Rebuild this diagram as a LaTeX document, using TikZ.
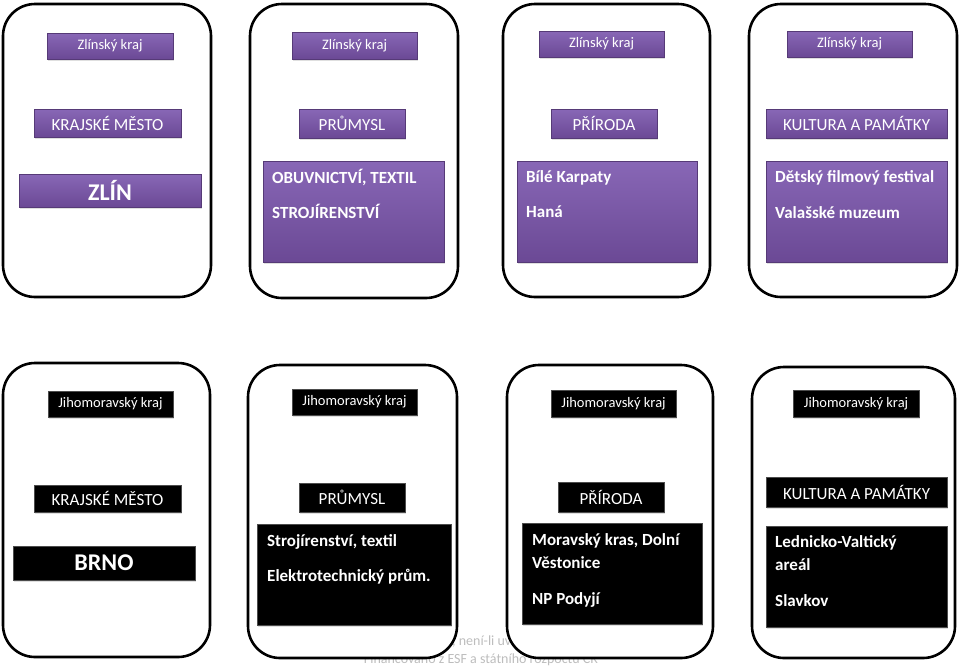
\documentclass[tikz,border=0pt]{standalone}
\usepackage{fontspec}
\setmainfont{Carlito}
\usetikzlibrary{shadows}
\definecolor{pTop}{HTML}{8867B6}
\definecolor{pBot}{HTML}{6B4995}
\definecolor{footgray}{HTML}{BDBDBD}
\tikzset{
  card/.style={draw=black, line width=2.6pt, fill=white, rounded corners=32pt},
  pbox/.style={top color=pTop, bottom color=pBot, draw=pBot!80!black, line width=0.4pt,
               text=white, inner sep=0pt, drop shadow={opacity=0.25, shadow xshift=1pt, shadow yshift=-1.5pt}},
  kbox/.style={fill=black, draw=black!70, line width=0.4pt, text=white, inner sep=0pt,
               drop shadow={opacity=0.25, shadow xshift=1pt, shadow yshift=-1.5pt}},
  hdr/.style={font=\fontsize{14.5}{16}\selectfont},
  cat/.style={font=\fontsize{17}{19}\selectfont},
  city/.style={font=\fontsize{24}{26}\selectfont\bfseries},
  bodytxt/.style={font=\fontsize{17}{19}\selectfont\bfseries, text=white, anchor=base west, inner sep=0pt},
  foot/.style={font=\fontsize{14}{16}\selectfont, text=footgray, inner sep=0pt}
}
\begin{document}
\begin{tikzpicture}[x=1pt,y=-1pt]
\useasboundingbox (0,0) rectangle (960,665);
% footer (partly hidden behind cards)
\node[foot, anchor=base west] (f1) at (452,645) {, není-li uvedeno jinak};
\node[foot, anchor=base] (f2) at (481,663) {Financováno z ESF a státního rozpočtu ČR};
% cards
\path[card] (3,4) rectangle (211,297);
\path[card] (250,4) rectangle (458,298);
\path[card] (503,4) rectangle (710,297);
\path[card] (749,4) rectangle (957,297);
\path[card] (3,363) rectangle (210,657);
\path[card] (248,365) rectangle (457,658);
\path[card] (507,365) rectangle (713,658);
\path[card] (752,367) rectangle (955,658);
% ---- top row (purple)
\node[pbox, hdr, minimum width=126pt, minimum height=26pt] (z1) at (110,46) {Zlínský kraj};
\node[pbox, cat, minimum width=147pt, minimum height=28pt] (k1) at (107.5,123) {KRAJSKÉ MĚSTO};
\node[pbox, city, minimum width=182pt, minimum height=33pt] (c1) at (110,190.5) {ZLÍN};

\node[pbox, hdr, minimum width=125pt, minimum height=27pt] (z2) at (354.5,45.5) {Zlínský kraj};
\node[pbox, cat, minimum width=106pt, minimum height=29pt] (p2) at (352,123.5) {PRŮMYSL};
\node[pbox, minimum width=181pt, minimum height=101pt] (b2) at (353.5,211.5) {};
\node[bodytxt] (t2a) at (272,183) {OBUVNICTVÍ, TEXTIL};
\node[bodytxt] (t2b) at (272,218) {STROJÍRENSTVÍ};

\node[pbox, hdr, minimum width=125pt, minimum height=26pt] (z3) at (601.5,44) {Zlínský kraj};
\node[pbox, cat, minimum width=106pt, minimum height=29pt] (p3) at (604,123.5) {PŘÍRODA};
\node[pbox, minimum width=180pt, minimum height=101pt] (b3) at (607,211.5) {};
\node[bodytxt] (t3a) at (526,182) {Bílé Karpaty};
\node[bodytxt] (t3b) at (526,217) {Haná};

\node[pbox, hdr, minimum width=125pt, minimum height=26pt] (z4) at (849.5,44) {Zlínský kraj};
\node[pbox, cat, minimum width=181pt, minimum height=29pt] (k4) at (856.5,123.5) {KULTURA A PAMÁTKY};
\node[pbox, minimum width=181pt, minimum height=101pt] (b4) at (856.5,211.5) {};
\node[bodytxt] (t4a) at (775,182) {Dětský filmový festival};
\node[bodytxt] (t4b) at (775,218) {Valašské muzeum};
% ---- bottom row (black)
\node[kbox, hdr, minimum width=125pt, minimum height=26pt] (j5) at (110.5,404) {Jihomoravský kraj};
\node[kbox, cat, minimum width=147pt, minimum height=27pt] (k5) at (107.5,498.5) {KRAJSKÉ MĚSTO};
\node[kbox, city, minimum width=182pt, minimum height=34pt] (c5) at (104,563) {BRNO};

\node[kbox, hdr, minimum width=125pt, minimum height=26pt] (j6) at (354.5,402) {Jihomoravský kraj};
\node[kbox, cat, minimum width=106pt, minimum height=29pt] (p6) at (352,497.5) {PRŮMYSL};
\node[kbox, minimum width=194pt, minimum height=101pt] (b6) at (354,574.5) {};
\node[bodytxt] (t6a) at (267,546) {Strojírenství, textil};
\node[bodytxt] (t6b) at (267,581) {Elektrotechnický prům.};

\node[kbox, hdr, minimum width=125pt, minimum height=27pt] (j7) at (613.5,403.5) {Jihomoravský kraj};
\node[kbox, cat, minimum width=106pt, minimum height=30pt] (p7) at (611,497) {PŘÍRODA};
\node[kbox, minimum width=180pt, minimum height=101pt] (b7) at (612,573.5) {};
\node[bodytxt] (t7a) at (532,545) {Moravský kras, Dolní};
\node[bodytxt] (t7b) at (532,568) {Věstonice};
\node[bodytxt] (t7c) at (532,604) {NP Podyjí};

\node[kbox, hdr, minimum width=126pt, minimum height=27pt] (j8) at (856,403.5) {Jihomoravský kraj};
\node[kbox, cat, minimum width=181pt, minimum height=30pt] (k8) at (856.5,492) {KULTURA A PAMÁTKY};
\node[kbox, minimum width=181pt, minimum height=101pt] (b8) at (856.5,576.5) {};
\node[bodytxt] (t8a) at (775,547) {Lednicko-Valtický};
\node[bodytxt] (t8b) at (775,570) {areál};
\node[bodytxt] (t8c) at (775,606) {Slavkov};
\end{tikzpicture}
\end{document}
